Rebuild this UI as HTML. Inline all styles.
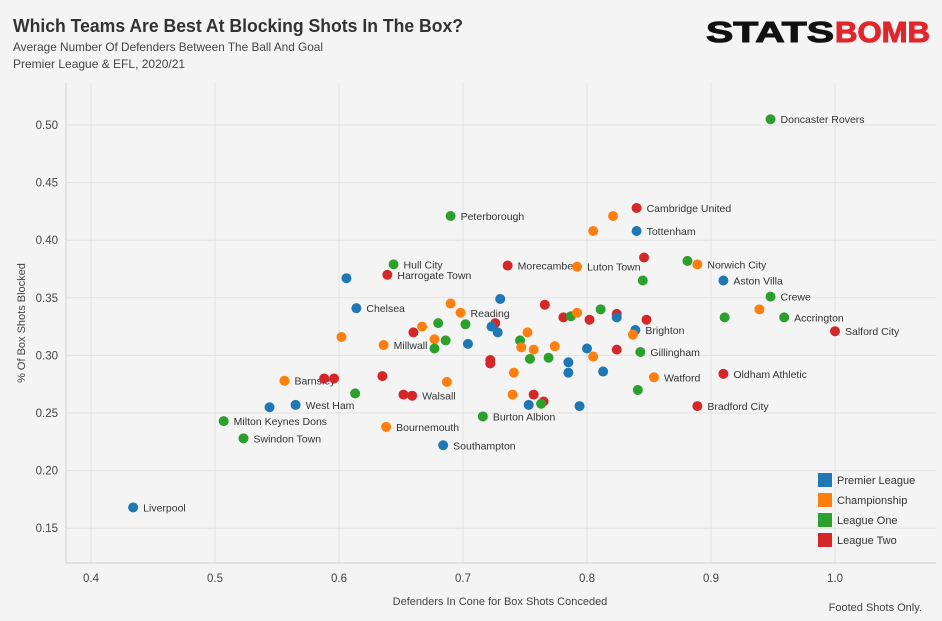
<!DOCTYPE html>
<html><head><meta charset="utf-8">
<style>
body{margin:0;background:#f4f4f4;font-family:"Liberation Sans",sans-serif;}
#wrap{position:relative;width:942px;height:621px;overflow:hidden;background:#f4f4f4;}
</style></head>
<body>
<div id="wrap">
<svg id="chart" width="942" height="621" xmlns="http://www.w3.org/2000/svg">
<text x="13" y="32" font-size="18.5" font-weight="bold" fill="#333" textLength="450" lengthAdjust="spacingAndGlyphs">Which Teams Are Best At Blocking Shots In The Box?</text>
<text x="13" y="51" font-size="12" fill="#444" textLength="310" lengthAdjust="spacingAndGlyphs">Average Number Of Defenders Between The Ball And Goal</text>
<text x="13" y="68" font-size="12" fill="#444">Premier League &amp; EFL, 2020/21</text>
<g>
<text x="706" y="42" font-size="29" font-weight="bold" fill="#111" textLength="128" lengthAdjust="spacingAndGlyphs" stroke="#111" stroke-width="1">STATS</text>
<text x="835" y="42" font-size="29" font-weight="bold" fill="#e0262b" textLength="95" lengthAdjust="spacingAndGlyphs" stroke="#e0262b" stroke-width="1">BOMB</text>
</g>
<g id="grid"></g>
<g id="axes"></g>
<g id="marks"></g>
<text x="500" y="605" font-size="11" fill="#444" text-anchor="middle">Defenders In Cone for Box Shots Conceded</text>
<text transform="translate(25,323) rotate(-90)" font-size="11" fill="#444" text-anchor="middle">% Of Box Shots Blocked</text>
<text x="922" y="611" font-size="11" fill="#444" text-anchor="end">Footed Shots Only.</text>
<g id="legend"></g>
</svg>
</div>
<script>
const xTicks=[0.4,0.5,0.6,0.7,0.8,0.9,1.0];
const yTicks=[0.15,0.20,0.25,0.30,0.35,0.40,0.45,0.50];
const leagues=["Premier League","Championship","League One","League Two"];
const leagueColors=["#1f77b4","#ff7f0e","#2ca02c","#d62728"];
const teamX=[0.948,0.690,0.840,0.821,0.805,0.840,0.644,0.639,0.606,0.736,0.792,0.846,0.845,0.881,0.889,0.910,0.948,0.939,0.911,0.959,1.000,0.614,0.730,0.690,0.698,0.766,0.602,0.667,0.660,0.680,0.702,0.726,0.723,0.728,0.636,0.677,0.686,0.677,0.704,0.781,0.787,0.792,0.811,0.802,0.824,0.824,0.848,0.752,0.746,0.747,0.757,0.774,0.839,0.837,0.754,0.769,0.800,0.805,0.824,0.843,0.722,0.722,0.785,0.785,0.813,0.741,0.854,0.910,0.841,0.889,0.556,0.588,0.596,0.635,0.687,0.613,0.652,0.659,0.740,0.757,0.765,0.763,0.753,0.794,0.565,0.544,0.507,0.716,0.638,0.523,0.684,0.434];
const teamY=[0.505,0.421,0.428,0.421,0.408,0.408,0.379,0.370,0.367,0.378,0.377,0.385,0.365,0.382,0.379,0.365,0.351,0.340,0.333,0.333,0.321,0.341,0.349,0.345,0.337,0.344,0.316,0.325,0.320,0.328,0.327,0.328,0.325,0.320,0.309,0.314,0.313,0.306,0.310,0.333,0.334,0.337,0.340,0.331,0.336,0.333,0.331,0.320,0.313,0.307,0.305,0.308,0.322,0.318,0.297,0.298,0.306,0.299,0.305,0.303,0.296,0.293,0.294,0.285,0.286,0.285,0.281,0.284,0.270,0.256,0.278,0.280,0.280,0.282,0.277,0.267,0.266,0.265,0.266,0.266,0.260,0.258,0.257,0.256,0.257,0.255,0.243,0.247,0.238,0.228,0.222,0.168];
const teamLeague=["O","O","T","C","C","P","O","T","P","T","C","T","O","O","C","P","O","C","O","O","T","P","P","C","C","T","C","C","T","O","O","T","P","P","C","C","O","O","P","T","O","C","O","T","T","P","T","C","O","C","C","C","P","C","O","O","P","C","T","O","T","T","P","P","P","C","C","T","O","T","C","T","T","T","C","O","T","T","C","T","T","O","P","P","P","P","O","O","C","O","P","P"];
const teamLabel=["Doncaster Rovers","Peterborough","Cambridge United","","","Tottenham","Hull City","Harrogate Town","","Morecambe","Luton Town","","","","Norwich City","Aston Villa","Crewe","","","Accrington","Salford City","Chelsea","","","Reading","","","","","","","","","","Millwall","","","","","","","","","","","","","","","","","","Brighton","","","","","","","Gillingham","","","","","","","Watford","Oldham Athletic","","Bradford City","Barnsley","","","","","","","Walsall","","","","","","","West Ham","","Milton Keynes Dons","Burton Albion","Bournemouth","Swindon Town","Southampton","Liverpool"];
const codeIdx={P:0,C:1,O:2,T:3};
const NS="http://www.w3.org/2000/svg";
const L=66,R=936,T=83,B=563;
function sx(v){return 91+(v-0.4)*1240;}
function sy(v){return 125+(0.5-v)*1152;}
function mk(tag,attrs,parent){const e=document.createElementNS(NS,tag);for(const k in attrs)e.setAttribute(k,attrs[k]);parent.appendChild(e);return e;}
const grid=document.getElementById('grid'),axes=document.getElementById('axes'),marks=document.getElementById('marks'),legend=document.getElementById('legend');
xTicks.forEach(t=>{
 const g=mk('line',{x1:sx(t),x2:sx(t),y1:T,y2:B,stroke:'#e2e2e2','stroke-width':1},grid);
 
 
 const tx=mk('text',{x:sx(t),y:582,'font-size':11.5,fill:'#444','text-anchor':'middle'},axes);
 tx.textContent=t.toFixed(1);
 
 
});
yTicks.forEach(t=>{
 const g=mk('line',{x1:L,x2:R,y1:sy(t),y2:sy(t),stroke:'#e2e2e2','stroke-width':1},grid);
 
 
 const tx=mk('text',{x:58,y:sy(t)+4,'font-size':11.5,fill:'#444','text-anchor':'end'},axes);
 tx.textContent=t.toFixed(2);
 
 
});
const ya=mk('line',{x1:L,x2:L,y1:T,y2:B,stroke:'#cfcfcf','stroke-width':1},axes);


const xa=mk('line',{x1:L,x2:R,y1:B,y2:B,stroke:'#cfcfcf','stroke-width':1},axes);


teamX.forEach((v,i)=>{
 const c=mk('circle',{cx:sx(v),cy:sy(teamY[i]),r:5,fill:leagueColors[codeIdx[teamLeague[i]]]},marks);
 
 
 if(teamLabel[i]){
  const t=mk('text',{x:sx(v)+10,y:sy(teamY[i])+4,'font-size':10.5,fill:'#333'},marks);
  t.textContent=teamLabel[i];
  
  
 }
});
leagues.forEach((n,i)=>{
 const y=473+i*20;
 const r=mk('rect',{x:818,y:y,width:14,height:14,fill:leagueColors[i]},legend);
 
 
 const t=mk('text',{x:837,y:y+11,'font-size':11,fill:'#333'},legend);
 t.textContent=n;
 
 
});
</script>
</body></html>
